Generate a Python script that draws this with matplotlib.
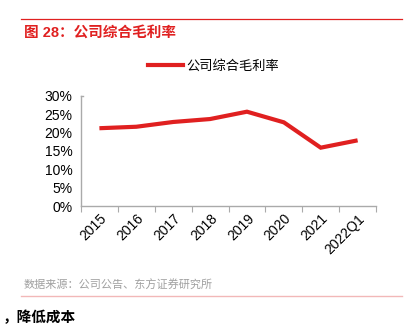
import matplotlib
matplotlib.use("Agg")
import matplotlib.pyplot as plt
from matplotlib.lines import Line2D

plt.rcParams['font.family'] = ['Liberation Sans', 'Noto Sans CJK SC', 'DejaVu Sans']

categories = ['2015', '2016', '2017', '2018', '2019', '2020', '2021', '2022Q1']
gross_margin = [21.2, 21.6, 22.9, 23.7, 25.7, 22.8, 15.9, 17.9]
y_ticks = [0, 5, 10, 15, 20, 25, 30]
series_name = '公司综合毛利率'

RED = '#e02020'

fig = plt.figure(figsize=(4.11, 3.24), dpi=100)
ax = fig.add_axes([0.197, 0.364, 0.718, 0.340])

x = range(len(categories))
ax.plot(x, gross_margin, color=RED, lw=3, solid_capstyle='butt', solid_joinstyle='miter')
ax.set_xlim(-0.5, len(categories) - 0.5)
ax.set_ylim(0, 30)

ax.set_yticks(y_ticks)
ax.set_yticklabels([f'{v}%' for v in y_ticks], fontsize=10)
ax.tick_params(axis='y', length=0, pad=6)

ax.set_xticks([i + 0.5 for i in range(-1, len(categories))], minor=False)
ax.set_xticklabels([])
ax.tick_params(axis='x', which='major', direction='out', length=4, color='#aaaaaa')
ax.set_xticks(list(x), minor=True)
ax.set_xticklabels(categories, minor=True, rotation=45, ha='right', va='top',
                   rotation_mode='anchor', fontsize=10)
ax.tick_params(axis='x', which='minor', length=0, pad=4)

for side in ['top', 'right']:
    ax.spines[side].set_visible(False)
for side in ['left', 'bottom']:
    ax.spines[side].set_color('#aaaaaa')
    ax.spines[side].set_linewidth(1)

# small cap at the top of the value axis
ax.plot([-0.5, -0.44], [30, 30], color='#aaaaaa', lw=1, clip_on=False)

# legend
handle = Line2D([], [], color=RED, lw=3)
fig.legend([handle], [series_name], loc='center', bbox_to_anchor=(0.52, 0.796),
           frameon=False, fontsize=9.5, handlelength=2.6, handletextpad=0.3)

# header
fig.add_artist(Line2D([21 / 411, 402 / 411], [1 - 19 / 324] * 2, color=RED, lw=0.9))
fig.text(24 / 411, 1 - 33 / 324, '图 28：公司综合毛利率', color=RED, fontsize=10.5,
         fontweight='bold', va='center', ha='left')

# footer
fig.text(24 / 411, 1 - 285 / 324, '数据来源：公司公告、东方证券研究所', color='#a0a0a0',
         fontsize=8, va='center', ha='left')
fig.add_artist(Line2D([21 / 411, 402 / 411], [1 - 296 / 324] * 2, color='#f2b8b8', lw=1))
fig.text(3 / 411, 1 - 318 / 324, '，降低成本', color='black', fontsize=10.5,
         fontweight='bold', va='center', ha='left')

fig.savefig('out.png', dpi=100)
